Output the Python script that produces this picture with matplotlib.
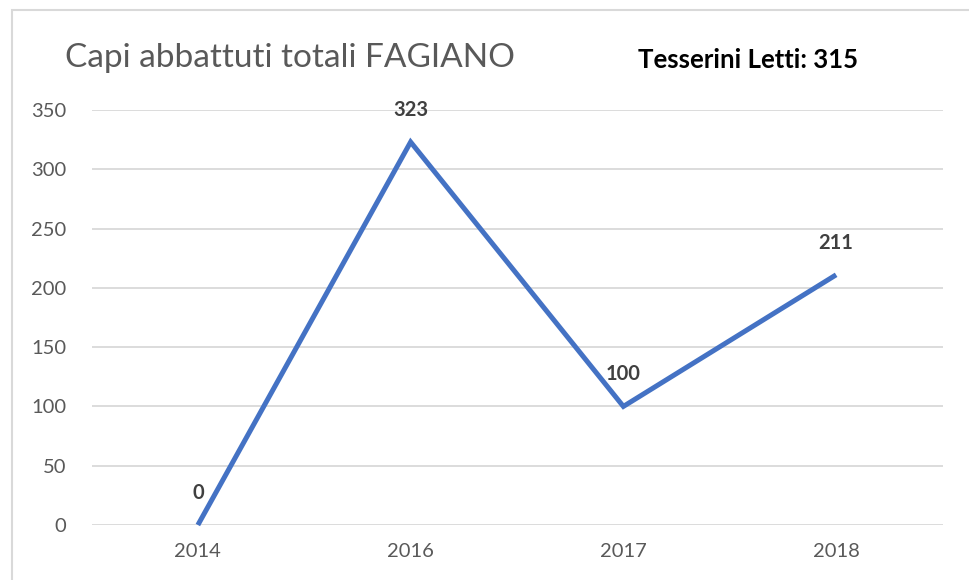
import matplotlib.pyplot as plt
from matplotlib.patches import Rectangle

years = ['2014', '2016', '2017', '2018']
capi = [0, 323, 100, 211]
tesserini = 315

plt.rcParams['font.family'] = ['Lato', 'DejaVu Sans']

W, H = 969, 580
fig = plt.figure(figsize=(W / 100, H / 100), dpi=100)

# chart frame (right and bottom edges fall outside the crop)
fig.patches.append(Rectangle((11.5 / W, -0.1), 1.2, 1 - 10 / H + 0.1,
                             transform=fig.transFigure, fill=False,
                             edgecolor='#d9d9d9', linewidth=1.5))

ax = fig.add_axes([91.5 / W, 1 - 525 / H, (942.5 - 91.5) / W, (525 - 110) / H])
x = range(len(years))
ax.plot(x, capi, color='#4472C4', linewidth=3.6, solid_capstyle='butt',
        solid_joinstyle='miter', clip_on=False, zorder=3)

for i, v in enumerate(capi):
    ax.annotate(str(v), (i, v), xytext=(0, 16), textcoords='offset points',
                ha='center', va='bottom', fontsize=14.5, fontweight='bold',
                color='#404040')

ax.set_xlim(-0.5, len(years) - 0.5)
ax.set_ylim(0, 350)
ax.set_yticks(range(0, 351, 50))
ax.set_xticks(list(x))
ax.set_xticklabels(years)
ax.yaxis.grid(True, color='#d9d9d9', linewidth=1.3)
ax.set_axisbelow(True)
for s in ax.spines.values():
    s.set_visible(False)
ax.tick_params(length=0, labelsize=14.5, labelcolor='#595959')
ax.tick_params(axis='y', pad=18)
ax.tick_params(axis='x', pad=13)

fig.text(65 / W, 1 - 58 / H, 'Capi abbattuti totali FAGIANO', fontsize=24,
         color='#595959', va='center', ha='left')
fig.text(748 / W, 1 - 60 / H, f'Tesserini Letti: {tesserini}', fontsize=18.5,
         fontweight='bold', color='black', va='center', ha='center')

fig.savefig('out.png', dpi=100)
